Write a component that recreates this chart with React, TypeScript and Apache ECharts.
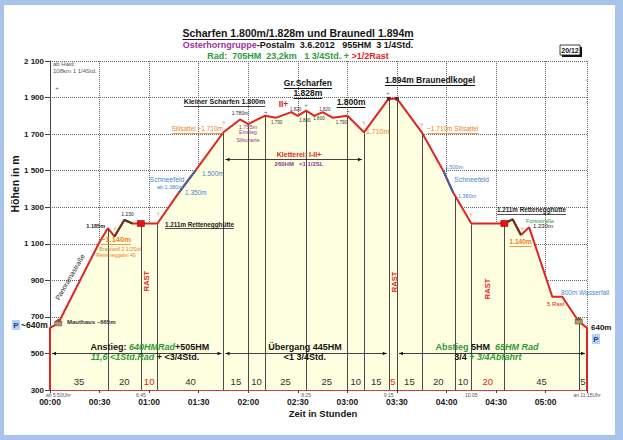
import React, { useEffect, useRef } from 'react';
import * as echarts from 'echarts';

const FONT = "'Liberation Sans', Arial, Helvetica, sans-serif";
const RED = '#e02424';
const ORANGE = '#e8822a';
const BLUE = '#4a86c6';
const PURPLE = '#8e3a94';
const GREEN = '#2f9a3a';
const DARK = '#151515';
const FRAME = '#a8c4ea';

// ---------- data ----------
const profileMin = [0, 5, 30, 35, 39, 45, 50, 55, 65, 78, 88, 105, 115, 120, 130, 137, 146, 150, 155, 160, 165, 171, 180, 190, 205, 210, 225, 238, 244, 255, 275, 280, 285, 290, 304, 310, 320, 325];
const profileElev = [640, 665, 1110, 1185, 1140, 1230, 1211, 1211, 1211, 1380, 1500, 1710, 1780, 1755, 1800, 1790, 1820, 1800, 1828, 1800, 1820, 1790, 1800, 1710, 1894, 1894, 1710, 1500, 1380, 1211, 1211, 1234, 1148, 1190, 810, 810, 675, 640];
const brownRanges = [[39, 50], [275, 285]];
const blueRanges = [[78, 88], [238, 244]];

const segBounds = [0, 35, 55, 65, 105, 120, 130, 155, 180, 190, 205, 210, 225, 245, 255, 275, 320, 325];
const segLabels = ['35', '20', '10', '40', '15', '10', '25', '25', '10', '15', '5', '15', '20', '10', '20', '45', '5'];
const segRast = [false, false, true, false, false, false, false, false, false, false, true, false, false, false, true, false, false];

const clockMin = [0, 55, 155, 205, 255, 325];
const clockText = ['ab 5:50Uhr', '6:45', '8:25', '9:15', '10:05', 'an 11:15Uhr'];

const rastMin = [55, 275];
const topMin = [205, 210];
const hutMin = [5, 320];

const arrowStart = [0, 105, 210, 105];
const arrowEnd = [105, 205, 325, 190];
const arrowElev = [500, 500, 500, 1562];

const Y_MIN = 300, Y_MAX = 2100, Y_STEP = 200;
const X_MIN = 0, X_MAX = 325, X_STEP = 30;

const TITLE = 'Scharfen 1.800m/1.828m und Braunedl 1.894m';

type Ann = { t: number; e: number; text?: string; rich?: string; size: number; color?: string; bold?: boolean; italic?: boolean; align?: string; ul?: boolean; rot?: number };

const ANNOTS: Ann[] = [
  { t: 1.8, e: 2084, text: 'ab Haid:', size: 6, color: '#555', align: 'left' },
  { t: 1.8, e: 2045, text: '108km 1 1/4Std.', size: 6, color: '#555', align: 'left' },
  { t: 33.3, e: 1197, text: '1.185m', size: 5.5, bold: true, color: '#222', align: 'right' },
  { t: 46.9, e: 1263, text: '1.230', size: 5, color: '#222' },
  { t: 39.9, e: 1122, text: '~1.140m', size: 7.5, bold: true, color: ORANGE, ul: true },
  { t: 42.4, e: 1070, text: 'Braunedl 2 1/2Std', size: 5.2, color: ORANGE },
  { t: 39.9, e: 1040, text: 'Retteneggalm 40', size: 5.2, color: ORANGE },
  { t: 12.1, e: 918, text: 'Panoramastraße', size: 7, color: '#333', rot: 60 },
  { t: 58.7, e: 896, text: 'RAST', size: 7.5, bold: true, color: RED, rot: 90 },
  { t: 10.3, e: 672, text: 'Mauthaus ~665m', size: 6, bold: true, color: '#333', align: 'left' },
  { t: 69.6, e: 1208, text: '1.211m Rettenegghütte', size: 6.3, bold: true, color: '#222', align: 'left', ul: true },
  { t: 70.8, e: 1449, text: 'Schneefeld', size: 7, color: BLUE },
  { t: 72.6, e: 1413, text: 'ab 1.380m', size: 5.5, color: BLUE },
  { t: 81.7, e: 1378, text: '1.350m', size: 6.5, color: BLUE, align: 'left' },
  { t: 92, e: 1487, text: '1.500m', size: 6.5, color: BLUE, align: 'left' },
  { t: 104.7, e: 1728, text: 'Sillsattel ~1.710m', size: 6.5, color: ORANGE, align: 'right', ul: true },
  { t: 115, e: 1815, text: '1.780m', size: 5, color: '#222' },
  { t: 119.8, e: 1739, text: '1.755m', size: 5.5, color: PURPLE },
  { t: 119.8, e: 1712, text: 'Einstieg', size: 5, color: PURPLE },
  { t: 119.8, e: 1668, text: 'Sillscharte', size: 5, color: PURPLE },
  { t: 105.6, e: 1876, text: 'Kleiner Scharfen 1.800m', size: 7, bold: true, color: DARK, ul: true },
  { t: 141.3, e: 1865, text: 'II+', size: 8.5, bold: true, color: RED },
  { t: 156.1, e: 1980, text: 'Gr.Scharfen', size: 8.5, bold: true, color: DARK, ul: true },
  { t: 156.1, e: 1925, text: '1.828m', size: 8.5, bold: true, color: DARK, ul: true },
  { t: 182.2, e: 1876, text: '1.800m', size: 8.5, bold: true, color: DARK, ul: true },
  { t: 137.1, e: 1766, text: '1.790', size: 4.5, color: '#333' },
  { t: 148.6, e: 1837, text: '1.820', size: 4.5, color: '#333' },
  { t: 154.3, e: 1777, text: '1.800', size: 4.5, color: '#333' },
  { t: 162.8, e: 1788, text: '1.800', size: 4.5, color: '#333' },
  { t: 166.4, e: 1837, text: '1.820', size: 4.5, color: '#333' },
  { t: 176.4, e: 1766, text: '1.790', size: 4.5, color: '#333' },
  { t: 191.2, e: 1712, text: '1.710m', size: 7, color: ORANGE, align: 'left' },
  { t: 202.7, e: 1996, text: '1.894m Braunedlkogel', size: 8.5, bold: true, color: DARK, align: 'left', ul: true },
  { t: 228.2, e: 1728, text: '~1.710m Sillsattel', size: 6.5, color: ORANGE, align: 'left', ul: true },
  { t: 239, e: 1520, text: '1.500m', size: 5.5, color: BLUE, align: 'left' },
  { t: 244.5, e: 1454, text: 'Schneefeld', size: 7, color: BLUE, align: 'left' },
  { t: 246.9, e: 1361, text: '1.380m', size: 5.5, color: BLUE, align: 'left' },
  { t: 270.5, e: 1285, text: '1.211m Rettenegghütte', size: 6.3, bold: true, color: '#222', align: 'left', ul: true },
  { t: 288.1, e: 1225, text: 'Forststraße', size: 5.5, color: GREEN, align: 'left' },
  { t: 292.3, e: 1197, text: '1.230m', size: 6, color: '#222', align: 'left' },
  { t: 284.8, e: 1110, text: '1.140m', size: 6.5, bold: true, color: ORANGE, ul: true },
  { t: 208.2, e: 891, text: 'RAST', size: 7.5, bold: true, color: RED, rot: 90 },
  { t: 264.5, e: 853, text: 'RAST', size: 7.5, bold: true, color: RED, rot: 90 },
  { t: 309.3, e: 836, text: '800m Wasserfall', size: 6.5, color: BLUE, align: 'left' },
  { t: 300.8, e: 771, text: '5 Rast', size: 6, color: RED, align: 'left' },
  { t: 150.7, e: 1591, text: 'Kletterei: I-II+', size: 7, bold: true, color: RED },
  { t: 150.7, e: 1536, text: '260HM   <1 1/2SL', size: 6, bold: true, color: PURPLE },
  { t: 60.5, e: 535, rich: '{b|Anstieg: }{gi|640HMRad}{b|+505HM}', size: 9 },
  { t: 57.5, e: 481, rich: '{gi|11,6 <1Std.Rad}{b| + <3/4Std.}', size: 9 },
  { t: 154.3, e: 535, text: 'Übergang 445HM', size: 9, bold: true, color: DARK },
  { t: 154.3, e: 481, text: '<1 3/4Std.', size: 9, bold: true, color: DARK },
  { t: 264.5, e: 535, rich: '{g|Abstieg }{b|5HM  }{gi|65HM Rad}', size: 9 },
  { t: 265, e: 481, rich: '{b|3/4 }{gi|+ 3/4Abfahrt}', size: 9 },
  // summit crosses
  { t: 4.2, e: 1952, text: '+', size: 6, color: '#555' },
  { t: 130.6, e: 1821, text: '+', size: 6, color: '#666' },
  { t: 155, e: 1859, text: '+', size: 6, color: '#666' },
  { t: 180.4, e: 1826, text: '+', size: 6, color: '#666' },
  { t: 204.6, e: 1925, text: '+', size: 6, color: '#666' },
  { t: 324.6, e: 2000, text: '+', size: 4, color: '#666' },
  { t: 324.6, e: 1945, text: '+', size: 4, color: '#666' },
  { t: 324.6, e: 1880, text: '+', size: 4, color: '#666' },
  { t: 39.3, e: 1181, text: '†', size: 6, color: ORANGE },
  { t: 65.4, e: 1263, text: '†', size: 6, color: ORANGE },
  { t: 105.3, e: 1761, text: '†', size: 6, color: ORANGE },
  { t: 190, e: 1761, text: '†', size: 6, color: ORANGE },
  { t: 225.1, e: 1750, text: '†', size: 6, color: ORANGE },
  { t: 254.8, e: 1257, text: '†', size: 6, color: ORANGE },
  { t: 285.7, e: 1181, text: '†', size: 6, color: ORANGE },
];

// ---------- helpers ----------
const nb = (s: string) => s.replace(/ /g, '\u00a0');
let measureCtx: CanvasRenderingContext2D | null = null;
function textWidth(text: string, size: number, bold?: boolean, italic?: boolean) {
  if (!measureCtx) measureCtx = document.createElement('canvas').getContext('2d');
  if (!measureCtx) return text.length * size * 0.55;
  measureCtx.font = `${italic ? 'italic ' : ''}${bold ? 'bold ' : ''}${size}px ${FONT}`;
  return measureCtx.measureText(text).width;
}
function interp(t: number) {
  for (let i = 0; i < profileMin.length - 1; i++) {
    const a = profileMin[i], b = profileMin[i + 1];
    if (t >= a && t <= b) {
      if (b === a) return profileElev[i];
      return profileElev[i] + (profileElev[i + 1] - profileElev[i]) * (t - a) / (b - a);
    }
  }
  return profileElev[profileElev.length - 1];
}
const fmtTime = (v: number) => {
  const h = Math.floor(v / 60), m = Math.round(v % 60);
  return `${String(h).padStart(2, '0')}:${String(m).padStart(2, '0')}`;
};
const richStyles = (size: number) => ({
  b: { fontWeight: 'bold', fill: DARK, fontSize: size, fontFamily: FONT },
  g: { fontWeight: 'bold', fill: GREEN, fontSize: size, fontFamily: FONT },
  gi: { fontWeight: 'bold', fontStyle: 'italic', fill: GREEN, fontSize: size, fontFamily: FONT },
  p: { fontWeight: 'bold', fill: '#9b3399', fontSize: size, fontFamily: FONT },
  r: { fontWeight: 'bold', fill: RED, fontSize: size, fontFamily: FONT },
});

function textEl(x: number, y: number, a: Ann) {
  const children: any[] = [];
  const style: any = {
    fill: a.color || DARK,
    fontSize: a.size,
    fontFamily: FONT,
    fontWeight: a.bold ? 'bold' : 'normal',
    fontStyle: a.italic ? 'italic' : 'normal',
    align: a.align || 'center',
    verticalAlign: 'middle',
  };
  if (a.rich) {
    style.text = nb(a.rich);
    style.rich = richStyles(a.size);
  } else {
    style.text = nb(a.text || '');
  }
  children.push({ type: 'text', x, y, rotation: ((a.rot || 0) * Math.PI) / 180, style });
  if (a.ul && a.text) {
    const w = textWidth(a.text, a.size, a.bold, a.italic);
    const x0 = a.align === 'left' ? x : a.align === 'right' ? x - w : x - w / 2;
    const uy = Math.round(y + a.size * 0.58) + 0.5;
    children.push({ type: 'line', shape: { x1: x0, y1: uy, x2: x0 + w, y2: uy }, style: { stroke: a.color || DARK, lineWidth: a.size >= 8 ? 1 : 0.8 } });
  }
  return { type: 'group', children };
}

function rangeData(r: number[]) {
  const out: number[][] = [];
  profileMin.forEach((t, i) => { if (t >= r[0] && t <= r[1]) out.push([t, profileElev[i]]); });
  return out;
}

export default function App() {
  const ref = useRef<HTMLDivElement>(null);
  useEffect(() => {
    if (!ref.current) return;
    const chart = echarts.init(ref.current, undefined, { renderer: 'svg' });

    const lineData = [[profileMin[0], Y_MIN], ...profileMin.map((t, i) => [t, profileElev[i]]), [profileMin[profileMin.length - 1], Y_MIN]];
    const dropT = segBounds.slice(1, segBounds.length - 1);

    const overlay = (r: number[], color: string) => ({
      type: 'line', data: rangeData(r), showSymbol: false, symbol: 'none', silent: true, z: 3,
      lineStyle: { color, width: 2 },
    });

    const w1 = textWidth(TITLE, 10.5, true);

    const option: any = {
      animation: false,
      backgroundColor: '#ffffff',
      grid: { left: 50, right: 36, top: 61, bottom: 50 },
      xAxis: {
        type: 'value', min: X_MIN, max: X_MAX, interval: X_STEP,
        axisLine: { onZero: false, lineStyle: { color: '#c82020', width: 1.5 } },
        axisTick: { show: true, length: 3, lineStyle: { color: '#444' } },
        axisLabel: {
          formatter: (v: number) => (v % X_STEP === 0 ? fmtTime(v) : ''),
          fontSize: 8.5, fontWeight: 'bold', color: '#1a1a1a', fontFamily: FONT, margin: 7,
        },
        splitLine: { show: true, lineStyle: { type: 'dotted', color: '#666', width: 1 } },
      },
      yAxis: {
        type: 'value', min: Y_MIN, max: Y_MAX, interval: Y_STEP,
        axisLine: { show: true, lineStyle: { color: '#444' } },
        axisTick: { show: true, length: 5, lineStyle: { color: '#444' } },
        axisLabel: {
          formatter: (v: number) => (v >= 1000 ? `${Math.floor(v / 1000)}\u00a0${String(v % 1000).padStart(3, '0')}` : String(v)),
          fontSize: 8, fontWeight: 'bold', color: '#1a1a1a', fontFamily: FONT, margin: 6,
        },
        splitLine: { show: true, lineStyle: { type: 'dotted', color: '#666', width: 1 } },
      },
      series: [
        {
          type: 'line', data: lineData, showSymbol: false, symbol: 'none', silent: true, z: 2,
          lineStyle: { color: RED, width: 2 },
          areaStyle: { color: '#fefee0', opacity: 1, origin: 'start' },
        },
        ...brownRanges.map((r) => overlay(r, '#5a3a1c')),
        ...blueRanges.map((r) => overlay(r, '#3d62a8')),
        {
          type: 'custom', silent: true, clip: false, z: 4,
          data: dropT.map((t) => [t, interp(t)]),
          renderItem: (params: any, api: any) => {
            const t = api.value(0), e = api.value(1);
            const p0 = api.coord([t, Y_MIN]);
            const p1 = api.coord([t, e]);
            const x = Math.round(p0[0]) + 0.5;
            return { type: 'line', shape: { x1: x, y1: p0[1], x2: x, y2: p1[1] + 1 }, style: { stroke: '#4a4a4a', lineWidth: 1 } };
          },
        },
        {
          type: 'custom', silent: true, clip: false, z: 5,
          data: arrowStart.map((t, i) => [t, arrowElev[i], arrowEnd[i]]),
          renderItem: (params: any, api: any) => {
            const p0 = api.coord([api.value(0), api.value(1)]);
            const p1 = api.coord([api.value(2), api.value(1)]);
            const x0 = p0[0] + 2, x1 = p1[0] - 2, y = Math.round(p0[1]) + 0.5;
            return {
              type: 'group',
              children: [
                { type: 'line', shape: { x1: x0, y1: y, x2: x1, y2: y }, style: { stroke: '#111', lineWidth: 0.8 } },
                { type: 'polygon', shape: { points: [[x0, y], [x0 + 4, y - 1.8], [x0 + 4, y + 1.8]] }, style: { fill: '#111' } },
                { type: 'polygon', shape: { points: [[x1, y], [x1 - 4, y - 1.8], [x1 - 4, y + 1.8]] }, style: { fill: '#111' } },
              ],
            };
          },
        },
        {
          type: 'custom', silent: true, clip: false, z: 6,
          data: segLabels.map((s, i) => [(segBounds[i] + segBounds[i + 1]) / 2, 346]),
          renderItem: (params: any, api: any) => {
            const p = api.coord([api.value(0), api.value(1)]);
            const i = params.dataIndex;
            return { type: 'text', x: p[0], y: p[1], style: { text: segLabels[i], fill: segRast[i] ? RED : '#333', fontSize: 9.5, fontFamily: FONT, align: 'center', verticalAlign: 'middle' } };
          },
        },
        {
          type: 'custom', silent: true, clip: false, z: 6,
          data: clockMin.map((t) => [t, 275]),
          renderItem: (params: any, api: any) => {
            const p = api.coord([api.value(0), api.value(1)]);
            const i = params.dataIndex;
            const first = i === 0;
            return { type: 'text', x: first ? p[0] - 4 : p[0], y: p[1], style: { text: nb(clockText[i]), fill: '#555', fontSize: 5, fontFamily: FONT, align: first ? 'left' : 'center', verticalAlign: 'middle' } };
          },
        },
        {
          type: 'custom', silent: true, clip: false, z: 7,
          data: [
            ...rastMin.map((t) => [t, interp(t), 0]),
            ...topMin.map((t) => [t, interp(t), 1]),
            ...hutMin.map((t) => [t, interp(t), 2]),
          ],
          renderItem: (params: any, api: any) => {
            const p = api.coord([api.value(0), api.value(1)]);
            const k = api.value(2);
            if (k === 0) return { type: 'rect', shape: { x: p[0] - 3.5, y: p[1] - 3, width: 7, height: 6 }, style: { fill: '#e81414', stroke: '#a00000', lineWidth: 0.6 } };
            if (k === 1) return { type: 'rect', shape: { x: p[0] - 1.8, y: p[1] - 1.8, width: 3.6, height: 3.6 }, style: { fill: '#6a1c1c' } };
            return {
              type: 'group', children: [
                { type: 'rect', shape: { x: p[0] - 3.5, y: p[1] - 1.5, width: 7, height: 4 }, style: { fill: '#b89a74', stroke: '#6a4a2a', lineWidth: 0.6 } },
                { type: 'polygon', shape: { points: [[p[0] - 4.5, p[1] - 1.5], [p[0], p[1] - 4.5], [p[0] + 4.5, p[1] - 1.5]] }, style: { fill: '#7a5a3a' } },
              ],
            };
          },
        },
        {
          type: 'custom', silent: true, clip: false, z: 8,
          data: ANNOTS.map((a) => [a.t, a.e]),
          renderItem: (params: any, api: any) => {
            const a = ANNOTS[params.dataIndex];
            const p = api.coord([a.t, a.e]);
            return textEl(p[0], p[1], a);
          },
        },
      ],
      graphic: [
        { type: 'rect', silent: true, shape: { x: 0, y: 0, width: 623, height: 5 }, style: { fill: FRAME } },
        { type: 'rect', silent: true, shape: { x: 0, y: 0, width: 4, height: 440 }, style: { fill: FRAME } },
        { type: 'rect', silent: true, shape: { x: 615, y: 0, width: 8, height: 440 }, style: { fill: FRAME } },
        { type: 'rect', silent: true, shape: { x: 0, y: 435, width: 623, height: 5 }, style: { fill: FRAME } },
        { type: 'text', x: 298, y: 33, style: { text: nb(TITLE), fill: DARK, fontSize: 10.5, fontWeight: 'bold', fontFamily: FONT, align: 'center', verticalAlign: 'middle' } },
        { type: 'line', shape: { x1: 298 - w1 / 2, y1: 39.5, x2: 298 + w1 / 2, y2: 39.5 }, style: { stroke: DARK, lineWidth: 1 } },
        { type: 'text', x: 298, y: 45, style: { text: nb('{p|Osterhorngruppe}{b|-Postalm  3.6.2012   955HM  3 1/4Std.}'), rich: richStyles(9), fontSize: 9, fontFamily: FONT, align: 'center', verticalAlign: 'middle' } },
        { type: 'text', x: 298, y: 56, style: { text: nb('{g|Rad:  705HM  23,2km   1 3/4Std. + }{r|>1/2Rast}'), rich: richStyles(9), fontSize: 9, fontFamily: FONT, align: 'center', verticalAlign: 'middle' } },
        { type: 'rect', shape: { x: 562, y: 47, width: 20, height: 10 }, style: { fill: '#111' } },
        { type: 'rect', shape: { x: 560, y: 45, width: 20, height: 10 }, style: { fill: '#fff', stroke: '#111', lineWidth: 0.8 } },
        { type: 'text', x: 570, y: 50, style: { text: '20/12', fill: DARK, fontSize: 7, fontWeight: 'bold', fontFamily: FONT, align: 'center', verticalAlign: 'middle' } },
        { type: 'text', x: 15, y: 184, rotation: Math.PI / 2, style: { text: nb('Höhen in m'), fill: DARK, fontSize: 10.5, fontWeight: 'bold', fontFamily: FONT, align: 'center', verticalAlign: 'middle' } },
        { type: 'text', x: 323, y: 413, style: { text: nb('Zeit in Stunden'), fill: DARK, fontSize: 9.5, fontWeight: 'bold', fontFamily: FONT, align: 'center', verticalAlign: 'middle' } },
        { type: 'rect', shape: { x: 12, y: 320, width: 8, height: 10 }, style: { fill: '#b6d2f2' } },
        { type: 'text', x: 16, y: 325, style: { text: 'P', fill: '#1f3f8f', fontSize: 8, fontWeight: 'bold', fontFamily: FONT, align: 'center', verticalAlign: 'middle' } },
        { type: 'text', x: 21, y: 325, style: { text: '~640m', fill: DARK, fontSize: 8.5, fontWeight: 'bold', fontFamily: FONT, align: 'left', verticalAlign: 'middle' } },
        { type: 'text', x: 591, y: 327, style: { text: '640m', fill: DARK, fontSize: 8, fontWeight: 'bold', fontFamily: FONT, align: 'left', verticalAlign: 'middle' } },
        { type: 'rect', shape: { x: 592, y: 334, width: 8, height: 10 }, style: { fill: '#b6d2f2' } },
        { type: 'text', x: 596, y: 339, style: { text: 'P', fill: '#1f3f8f', fontSize: 8, fontWeight: 'bold', fontFamily: FONT, align: 'center', verticalAlign: 'middle' } },
      ],
    };

    chart.setOption(option);
    return () => chart.dispose();
  }, []);

  return <div ref={ref} style={{ position: 'fixed', left: 0, top: 0, width: 623, height: 440 }} />;
}
